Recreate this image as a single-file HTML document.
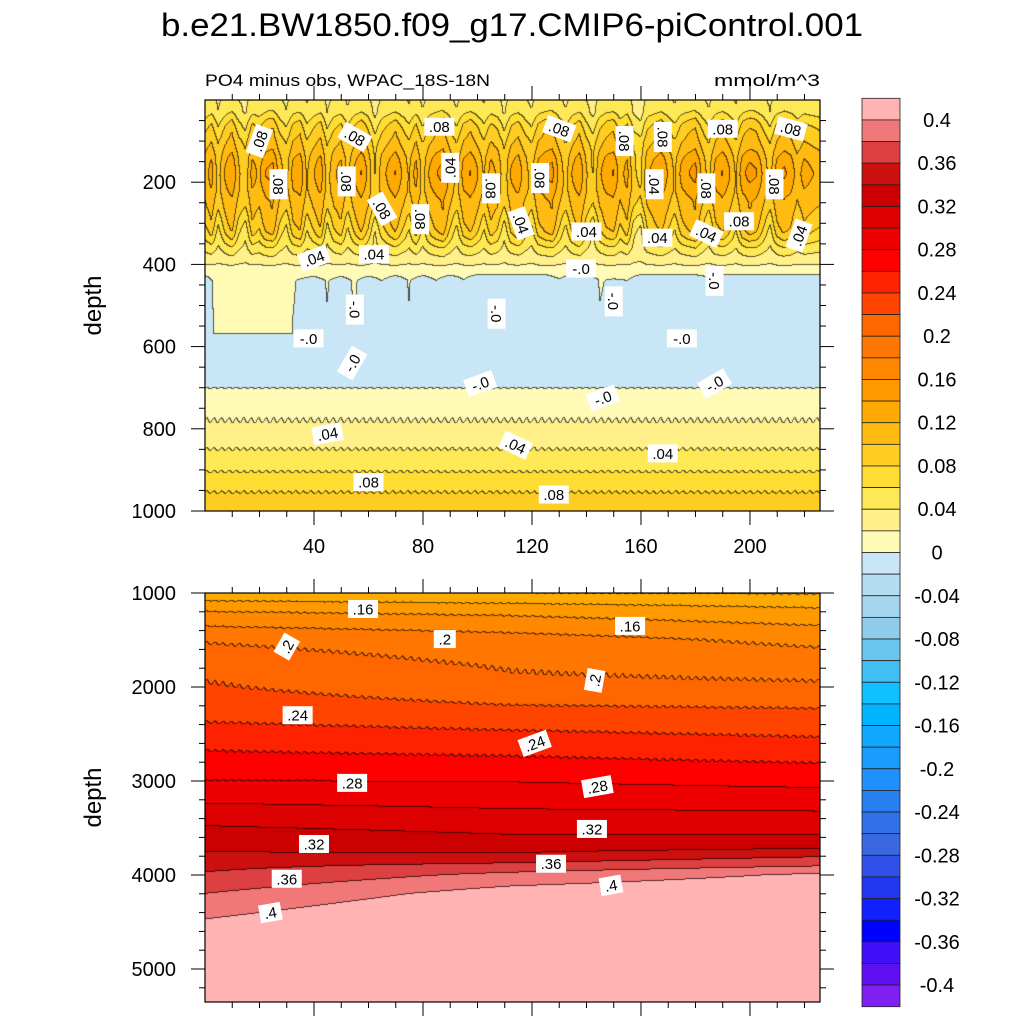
<!DOCTYPE html>
<html><head><meta charset="utf-8"><style>
html,body{margin:0;padding:0;background:#fff;width:1024px;height:1024px;overflow:hidden}
#wrap{position:relative;width:1024px;height:1024px}
canvas{position:absolute;left:0;top:0}
svg{position:absolute;left:0;top:0}
text{font-family:"Liberation Sans",sans-serif;fill:#000}
</style></head><body>
<div id="wrap">
<canvas id="cv" width="1024" height="1024"></canvas>
<svg id="sv" width="1024" height="1024"></svg>
</div>
<script>
// ---- data ----
const levels = []; for (let i=0;i<=40;i++) levels.push(Math.round((-0.4+i*0.02)*100)/100);
const colors = ["#7F20F0","#6010F0","#4010F8","#0000FF","#1020FF","#2038F0","#3050E8","#3A68E0","#3070E8","#2880F0","#2090FF","#1A9CFF","#10A8FF","#00B4FF","#10C0FF","#40BEF5","#6AC6EE","#90CCEB","#A5D6EE","#B5DDF2","#C8E6F5",
"#FFFAB5","#FFF08A","#FFE855","#FFDD33","#FFCC22","#FFBB11","#FFAA00","#FF9900","#FF8800","#FF7700","#FF6600","#FF4400","#FF2200","#FF0000","#EE0000","#DD0000","#CC0000","#CC1010","#DD4040","#F07878","#FFB3B3"];
const cbLabels = ["0.4","0.36","0.32","0.28","0.24","0.2","0.16","0.12","0.08","0.04","0","-0.04","-0.08","-0.12","-0.16","-0.2","-0.24","-0.28","-0.32","-0.36","-0.4"];
const cbValues = [0.4,0.36,0.32,0.28,0.24,0.2,0.16,0.12,0.08,0.04,0,-0.04,-0.08,-0.12,-0.16,-0.2,-0.24,-0.28,-0.32,-0.36,-0.4];

const topDepth = [0,30,60,100,140,180,220,260,300,340,380,410,440,550,650,690,720,760,800,850,900,950,1000];
const topBase  = [0.04,0.045,0.065,0.085,0.098,0.104,0.102,0.092,0.074,0.054,0.032,0.014,-0.004,-0.006,-0.006,-0.003,0.006,0.016,0.024,0.04,0.058,0.078,0.098];
const topStripe = [0.005,0.02,-0.01,0.015,0.03,0.0,-0.015,0.02,0.01,0.03,0.035,0.005,-0.01,0.02,0.028,-0.005,0.012,0.025,-0.012,0.01,0.02,-0.008,0.015,0.03,0.01,-0.02,0.005,0.018,0.03,0.012,-0.005,0.02,-0.01,0.015,0.028,0.035,0.01,-0.01,0.02,0.03,0.015,-0.005,0.02,0.01,-0.015,0.015,0.025,0.005,-0.01,0.02,0.03,0.035,0.01,-0.01,0.015,0.028,0.0,-0.02,0.01,0.025,0.03,0.005,0.02,-0.015,-0.025,0.01,0.02,0.03,0.012,-0.005,0.018,0.028,0.035,0.01,-0.01,0.02,0.03,0.015,-0.005,0.025,0.035,0.03,0.01,-0.01,0.02,0.032,0.025,0.005,0.02,0.015,0.01];
const stripeStep = 2.5;
const topMid = [-0.006,0.012,0.013,0.013,0.012,0.012,0.009,0.002,-0.003,0.005,-0.003,0.006,-0.004,0.004,-0.006,0.005,-0.006,0.004,-0.008,0.003,-0.01,-0.008,-0.01,-0.01,-0.01,-0.01,0.002,-0.01,-0.01,0.005,0.002,0.004,-0.01,-0.01,-0.01,-0.01,-0.01,0.0,-0.01,-0.01,-0.01,-0.01,-0.01,-0.01,-0.01,-0.01];
const midStep = 5;

const botDepth = [1000,1200,1500,1800,2000,2300,2600,3000,3300,3600,3700,3800,3900,4000,4200,4500,5000,5350];
const botLeft  = [0.125,0.16,0.198,0.215,0.222,0.235,0.255,0.28,0.305,0.33,0.336,0.343,0.355,0.362,0.38,0.402,0.43,0.44];
const botMid   = [0.12,0.155,0.188,0.199,0.205,0.228,0.25,0.279,0.3,0.322,0.33,0.345,0.365,0.385,0.41,0.43,0.44,0.44];
const botRight = [0.118,0.145,0.175,0.193,0.203,0.225,0.244,0.274,0.298,0.322,0.335,0.358,0.378,0.403,0.42,0.43,0.44,0.44];

// ---- axes ----
const TX0=205, TX1=820, XMAX=225.7;
const xs = u => TX0 + u*(TX1-TX0)/XMAX;
const ysT = d => 100 + d*0.411;
const ysB = d => 593 + (d-1000)*0.094;
function interp(arr, vals, x){
  if (x<=arr[0]) return vals[0];
  for (let i=1;i<arr.length;i++) if (x<=arr[i]){const t=(x-arr[i-1])/(arr[i]-arr[i-1]);return vals[i-1]+t*(vals[i]-vals[i-1]);}
  return vals[vals.length-1];
}
function colAt(arr,step,u){const f=u/step;const i=Math.max(0,Math.min(arr.length-2,Math.floor(f)));const t=f-i;return arr[i]*(1-t)+arr[i+1]*t;}
function levIdx(v){let k=0;while(k<levels.length && v>=levels[k]) k++;return k;}
function topField(u,d){
  let v=interp(topDepth,topBase,d);
  let wu = d<20?0.3:(d<80?0.3+0.7*(d-20)/60:(d<330?1:(d<410?(410-d)/80:0)));
  v+=wu*colAt(topStripe,stripeStep,u)*(1+0.25*Math.sin(d/22));
  let wm = (d>415&&d<700)?Math.min(1,(d-415)/25,(700-d)/40):0;
  let m=colAt(topMid,midStep,u); if(d>570 && u<35) m=Math.min(m,-0.004);
  v+=wm*m;
  if(d>700) v+=0.0012*Math.sin(u*2.3);
  return v;
}
function botField(u,d){
  const a=interp(botDepth,botLeft,d),b=interp(botDepth,botMid,d),c=interp(botDepth,botRight,d);
  let v = u<113 ? a+(b-a)*u/113 : b+(c-b)*(u-113)/113;
  if(d<3000) v+=0.0008*Math.sin(u*2.1);
  return v;
}
const cv=document.getElementById('cv'),ctx=cv.getContext('2d');
const img=ctx.createImageData(1024,1024);
const rgb=colors.map(h=>[parseInt(h.substr(1,2),16),parseInt(h.substr(3,2),16),parseInt(h.substr(5,2),16)]);
function render(y0,y1,inv,field){
  const W=TX1-TX0,H=y1-y0;const idx=new Int16Array(W*H);
  for(let j=0;j<H;j++)for(let i=0;i<W;i++){const u=(i+0.5)*XMAX/W;const d=inv(y0+j+0.5);idx[j*W+i]=levIdx(field(u,d));}
  for(let j=0;j<H;j++)for(let i=0;i<W;i++){
    const k=idx[j*W+i];let c=rgb[k];let line=(i<W-1&&idx[j*W+i+1]!==k)||(j<H-1&&idx[(j+1)*W+i]!==k);
    const p=((y0+j)*1024+TX0+i)*4;
    if(line){img.data[p]=c[0]*0.35;img.data[p+1]=c[1]*0.35;img.data[p+2]=c[2]*0.35;}
    else{img.data[p]=c[0];img.data[p+1]=c[1];img.data[p+2]=c[2];}
    img.data[p+3]=255;
  }
}
render(100,511,y=>(y-100)/0.411,topField);
render(593,1002,y=>1000+(y-593)/0.094,botField);
ctx.putImageData(img,0,0);

// ---- svg ----
const NS="http://www.w3.org/2000/svg",sv=document.getElementById('sv');
function mk(tag,attrs,parent){const e=document.createElementNS(NS,tag);for(const k in attrs)e.setAttribute(k,attrs[k]);(parent||sv).appendChild(e);return e;}
function ln(x1,y1,x2,y2,g){return mk('line',{x1,y1,x2,y2,stroke:'#000','stroke-width':1},g);}
function txt(s,x,y,size,anchor,g,extra){const t=mk('text',Object.assign({x,y,'font-size':size,'text-anchor':anchor||'start'},extra||{}),g);t.textContent=s;return t;}

let t=txt("b.e21.BW1850.f09_g17.CMIP6-piControl.001",512,36,32,'middle',null,{textLength:702,lengthAdjust:'spacingAndGlyphs'});


t=txt("PO4 minus obs, WPAC_18S-18N",205,86,17,'start',null,{textLength:285,lengthAdjust:'spacingAndGlyphs'});


t=txt("mmol/m^3",820,86,17,'end',null,{textLength:106,lengthAdjust:'spacingAndGlyphs'});



function panel(name,y0,y1,ys,dMin,dMax,major,minor,xLabels){
  const g=mk('g',{});
  
  
  mk('rect',{x:TX0,y:y0,width:TX1-TX0,height:y1-y0,fill:'none',stroke:'#000','stroke-width':1.2},g);
  for(let u=10;u<XMAX;u+=10){const x=xs(u);const big=u%40===0;const L=big?14:6;ln(x,y1,x,y1+L,g);ln(x,y0,x,y0-L,g);
    if(big&&xLabels){const tl=txt(String(u),x,y1+42,20,'middle',g);}}
  for(let d=Math.ceil(dMin/minor)*minor;d<=dMax;d+=minor){if(d===0)continue;const y=ys(d);const big=d%major===0;const L=big?14:6;ln(TX0,y,TX0-L,y,g);ln(TX1,y,TX1+L,y,g);
    if(big){const tl=txt(String(d),176,y+7,20,'end',g);}}
  const yt=txt("depth",0,0,24,'middle',g,{transform:`translate(101,${(y0+y1)/2}) rotate(-90)`});
  
  
  return g;
}
panel('upper-panel',100,511,ysT,0,1000,200,50,true);
panel('lower-panel',593,1002,ysB,1000,5350,1000,200,false);

// contour labels
const topLabels=[[".08",20,100,-70],[".08",55,90,30],[".08",86,65,0],[".08",130,70,20],[".08",154,100,90],[".08",168,90,90],[".08",190,70,0],[".08",215,70,15],
[".08",27,205,90],[".08",52,198,90],[".04",90,165,-90],[".08",105,215,90],[".08",123,190,90],[".04",165,205,90],[".08",184,215,90],[".08",209,205,90],
[".08",65,265,60],[".08",79,290,90],[".04",116,300,70],[".04",140,320,0],[".04",166,335,0],[".04",184,325,25],[".08",196,295,0],[".04",218,330,-70],
[".04",40,385,-20],[".04",62,375,0],["-.0",138,410,0],["-.0",150,490,90],["-.0",187,440,90],["-.0",55,510,90],["-.0",107,520,90],
["-.0",38,580,0],["-.0",54,640,-60],["-.0",175,580,0],["-.0",101,690,-20],["-.0",146,725,-20],["-.0",187,690,-30],
[".04",45,812,-10],[".04",114,840,25],[".04",168,860,0],[".08",60,930,0],[".08",128,960,0]];
const botLabels=[[".16",58,1170,0],[".16",156,1350,0],[".2",30,1570,-60],[".2",88,1490,0],[".2",143,1930,-80],[".24",34,2300,0],[".24",121,2600,-20],
[".28",54,3020,0],[".28",144,3060,-10],[".32",40,3670,0],[".32",142,3510,0],[".36",30,4040,0],[".36",127,3880,0],[".4",24,4400,-10],[".4",149,4110,-10]];
function drawLabels(list,ys,nm){
  const g=mk('g',{});
  
  
  list.forEach(l=>{const x=xs(l[1]),y=ys(l[2]);
    const lg=mk('g',{transform:`translate(${x},${y}) rotate(${l[3]})`},g);
    
    
    const w=l[0].length*8+6;
    mk('rect',{x:-w/2,y:-9,width:w,height:18,fill:'#fff'},lg);
    txt(l[0],0,5.5,15,'middle',lg);
  });
}
drawLabels(topLabels,ysT,'upper-contour-labels');
drawLabels(botLabels,ysB,'lower-contour-labels');

// colorbar
const cb=mk('g',{});


const CBT=98.3,CBH=(1006.7-98.3)/colors.length;
for(let k=colors.length-1,r=0;k>=0;k--,r++){
  const b=mk('rect',{x:862,y:CBT+r*CBH,width:38,height:CBH,fill:colors[k],stroke:'#222','stroke-width':0.8},cb);
  
  
}
cbValues.forEach((v,i)=>{const r=Math.round((0.4-v)/0.02)+1;const y=CBT+r*CBH;
  const tl=txt(cbLabels[i],937,y+7,20,'middle',cb);
  
  });
</script>
</body></html>
